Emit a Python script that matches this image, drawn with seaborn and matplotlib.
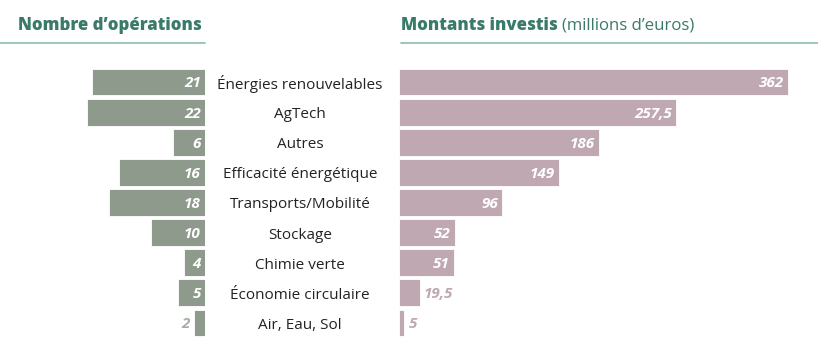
import matplotlib
matplotlib.use("Agg")
import matplotlib.pyplot as plt
import matplotlib.transforms as mtransforms
import pandas as pd
import seaborn as sns

# Data
categories = ["Énergies renouvelables", "AgTech", "Autres", "Efficacité énergétique",
              "Transports/Mobilité", "Stockage", "Chimie verte", "Économie circulaire",
              "Air, Eau, Sol"]
nb_operations = [21, 22, 6, 16, 18, 10, 4, 5, 2]
montants = [362, 257.5, 186, 149, 96, 52, 51, 19.5, 5]

df = pd.DataFrame({"cat": categories, "ops": nb_operations, "eur": montants})

GREEN = "#8e9a8c"
MAUVE = "#bfa8b1"
TEAL = "#3a7a6a"
RULE = "#93c0b7"
TXT = "#222222"

sns.set_theme(style="white")
plt.rcParams["font.family"] = ["Open Sans", "DejaVu Sans"]

W, H = 818, 364
fig = plt.figure(figsize=(W / 100, H / 100), dpi=100)


def px_axes(x0, y0, x1, y1):
    # axes from pixel box (top-left origin)
    return fig.add_axes([x0 / W, 1 - y1 / H, (x1 - x0) / W, (y1 - y0) / H])


top, bottom = 67, 338
ax_l = px_axes(0, top, 205, bottom)
ax_r = px_axes(399, top, 818, bottom)

sns.barplot(data=df, x="ops", y="cat", orient="h", color=GREEN, saturation=1,
            width=0.89, edgecolor="white", linewidth=0.6, ax=ax_l)
sns.barplot(data=df, x="eur", y="cat", orient="h", color=MAUVE, saturation=1,
            width=0.89, edgecolor="white", linewidth=0.6, ax=ax_r)

ax_l.set_xlim(205 / 5.36, 0)
ax_r.set_xlim(0, 419 / 1.075)

for ax in (ax_l, ax_r):
    ax.set_ylim(len(categories) - 0.5, -0.5)
    ax.set_axis_off()


def fmt(v):
    return f"{v:g}".replace(".", ",")


VAL = dict(va="center", fontsize=11, fontweight="bold", fontstyle="italic",
           textcoords="offset points")

# Left value labels
for i, v in enumerate(nb_operations):
    if v >= 4:
        ax_l.annotate(fmt(v), (0, i), xytext=(-3, -1), ha="right", color="white", **VAL)
    else:
        ax_l.annotate(fmt(v), (v, i), xytext=(-3, -1), ha="right", color="#a7aea5", **VAL)

# Right value labels
for i, v in enumerate(montants):
    if v >= 40:
        ax_r.annotate(fmt(v), (v, i), xytext=(-3, -1), ha="right", color="white", **VAL)
    else:
        ax_r.annotate(fmt(v), (v, i), xytext=(3, -1), ha="left", color=MAUVE, **VAL)

# Category labels in the middle
trans = mtransforms.blended_transform_factory(fig.transFigure, ax_r.transData)
for i, c in enumerate(categories):
    ax_r.text(300 / W, i + 0.08, c, transform=trans, ha="center", va="center",
              fontsize=11, color=TXT, clip_on=False)

# Headers
fig.text(18 / W, 1 - 26 / H, "Nombre d’opérations", ha="left", va="center",
         fontsize=12.1, fontweight="heavy", color=TEAL)
head = fig.text(401 / W, 1 - 26 / H, "Montants investis", ha="left", va="center",
                fontsize=12.1, fontweight="heavy", color=TEAL)
fig.canvas.draw()
bb = head.get_window_extent()
fig.text(bb.x1 / W + 4 / W, 1 - 26 / H, "(millions d’euros)", ha="left", va="center",
         fontsize=12.1, color=TEAL)

fig.add_artist(plt.Line2D([0, 205 / W], [1 - 42.7 / H] * 2, color=RULE, lw=1.3))
fig.add_artist(plt.Line2D([401 / W, 1], [1 - 42.7 / H] * 2, color=RULE, lw=1.3))

fig.savefig("out.png", dpi=100)
